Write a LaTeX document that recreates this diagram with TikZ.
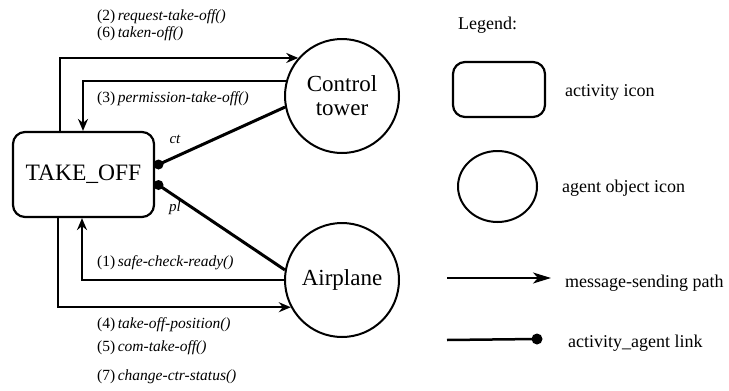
\documentclass[tikz,border=0pt]{standalone}
\usepackage{fontspec}
\setmainfont{Liberation Serif}
\usetikzlibrary{arrows.meta,shapes.geometric}
\begin{document}
\begin{tikzpicture}[x=1pt,y=-1pt,
  bigfont/.style={font=\fontsize{23}{25}\selectfont},
  lblfont/.style={font=\fontsize{15.5}{18}\selectfont},
  legfont/.style={font=\fontsize{18}{20}\selectfont},
  activity/.style={draw,line width=2.2pt,rounded corners=12pt,inner sep=0pt},
  agent/.style={draw,circle,line width=2pt,inner sep=0pt,minimum size=114pt,align=center,bigfont},
  msg/.style={line width=2pt,-{Stealth[length=12pt,width=10pt,inset=4pt]}},
  link/.style={line width=3pt},
  dotnode/.style={circle,fill,inner sep=0pt,minimum size=10pt},
  lbl/.style={anchor=west,inner sep=0pt,lblfont},
  leg/.style={anchor=west,inner sep=0pt,legfont}
]
\useasboundingbox (0,0) rectangle (729,391);

% main nodes
\node[activity,minimum width=141pt,minimum height=85pt,font=\fontsize{23.5}{25}\selectfont] (tk) at (83.5,174.5) {TAKE\_OFF};
\node[agent] (ct) at (342,96) {Control\\[-1pt]tower};
\node[agent] (ap) at (342,280) {Airplane};

% agent link dots
\node[dotnode] (d1) at (158.5,164.5) {};
\node[dotnode] (d2) at (158.5,185) {};
\draw[link] (d1.center) -- (ct.191);
\draw[link] (d2.center) -- (ap.170);
\node[inner sep=0pt,font=\fontsize{15}{16}\selectfont\itshape] (lct) at (175,139) {ct};
\node[inner sep=0pt,font=\fontsize{15}{16}\selectfont\itshape] (lpl) at (175,208) {pl};

% message paths
\coordinate (xo1) at (60,0);
\coordinate (xi1) at (83,0);
\coordinate (xo2) at (58,0);
\coordinate (xi2) at (82,0);
\draw[msg] (tk.north -| xo1) |- (ct.139.5);
\draw[msg] (ct.165.8) -| (tk.north -| xi1);
\draw[msg] (ap.west) -| (tk.south -| xi2);
\draw[msg] (tk.south -| xo2) |- (ap.208.3);

% message labels
\node[lbl] (m2) at (97,17) {(2)\,\textit{request-take-off()}};
\node[lbl] (m6) at (97,34) {(6)\,\textit{taken-off()}};
\node[lbl] (m3) at (97,99) {(3)\,\textit{permission-take-off()}};
\node[lbl] (m1) at (97,263) {(1)\,\textit{safe-check-ready()}};
\node[lbl] (m4) at (97,325) {(4)\,\textit{take-off-position()}};
\node[lbl] (m5) at (97,348) {(5)\,\textit{com-take-off()}};
\node[lbl] (m7) at (97,377) {(7)\,\textit{change-ctr-status()}};

% legend
\node[leg] (lg) at (458,25) {Legend:};
\node[activity,minimum width=92pt,minimum height=55pt] (la) at (499,89.5) {};
\node[leg] (lat) at (565,92) {activity icon};
\node[draw,ellipse,line width=2pt,inner sep=0pt,minimum width=79pt,minimum height=71pt] (lo) at (497.5,186.5) {};
\node[leg] (lot) at (562,188) {agent object icon};
\coordinate (lm1) at (447,278);
\coordinate (lm2) at (551,278);
\draw[line width=2pt,-{Stealth[length=18pt,width=11pt,inset=5pt]}] (lm1) -- (lm2);
\node[leg] (lmt) at (565,283) {message-sending path};
\coordinate (ll1) at (447,340);
\node[dotnode,minimum size=11pt] (ld) at (537,339) {};
\draw[line width=2.5pt] (ll1) -- (ld.center);
\node[leg] (llt) at (568,343) {activity\_agent link};
\end{tikzpicture}
\end{document}
